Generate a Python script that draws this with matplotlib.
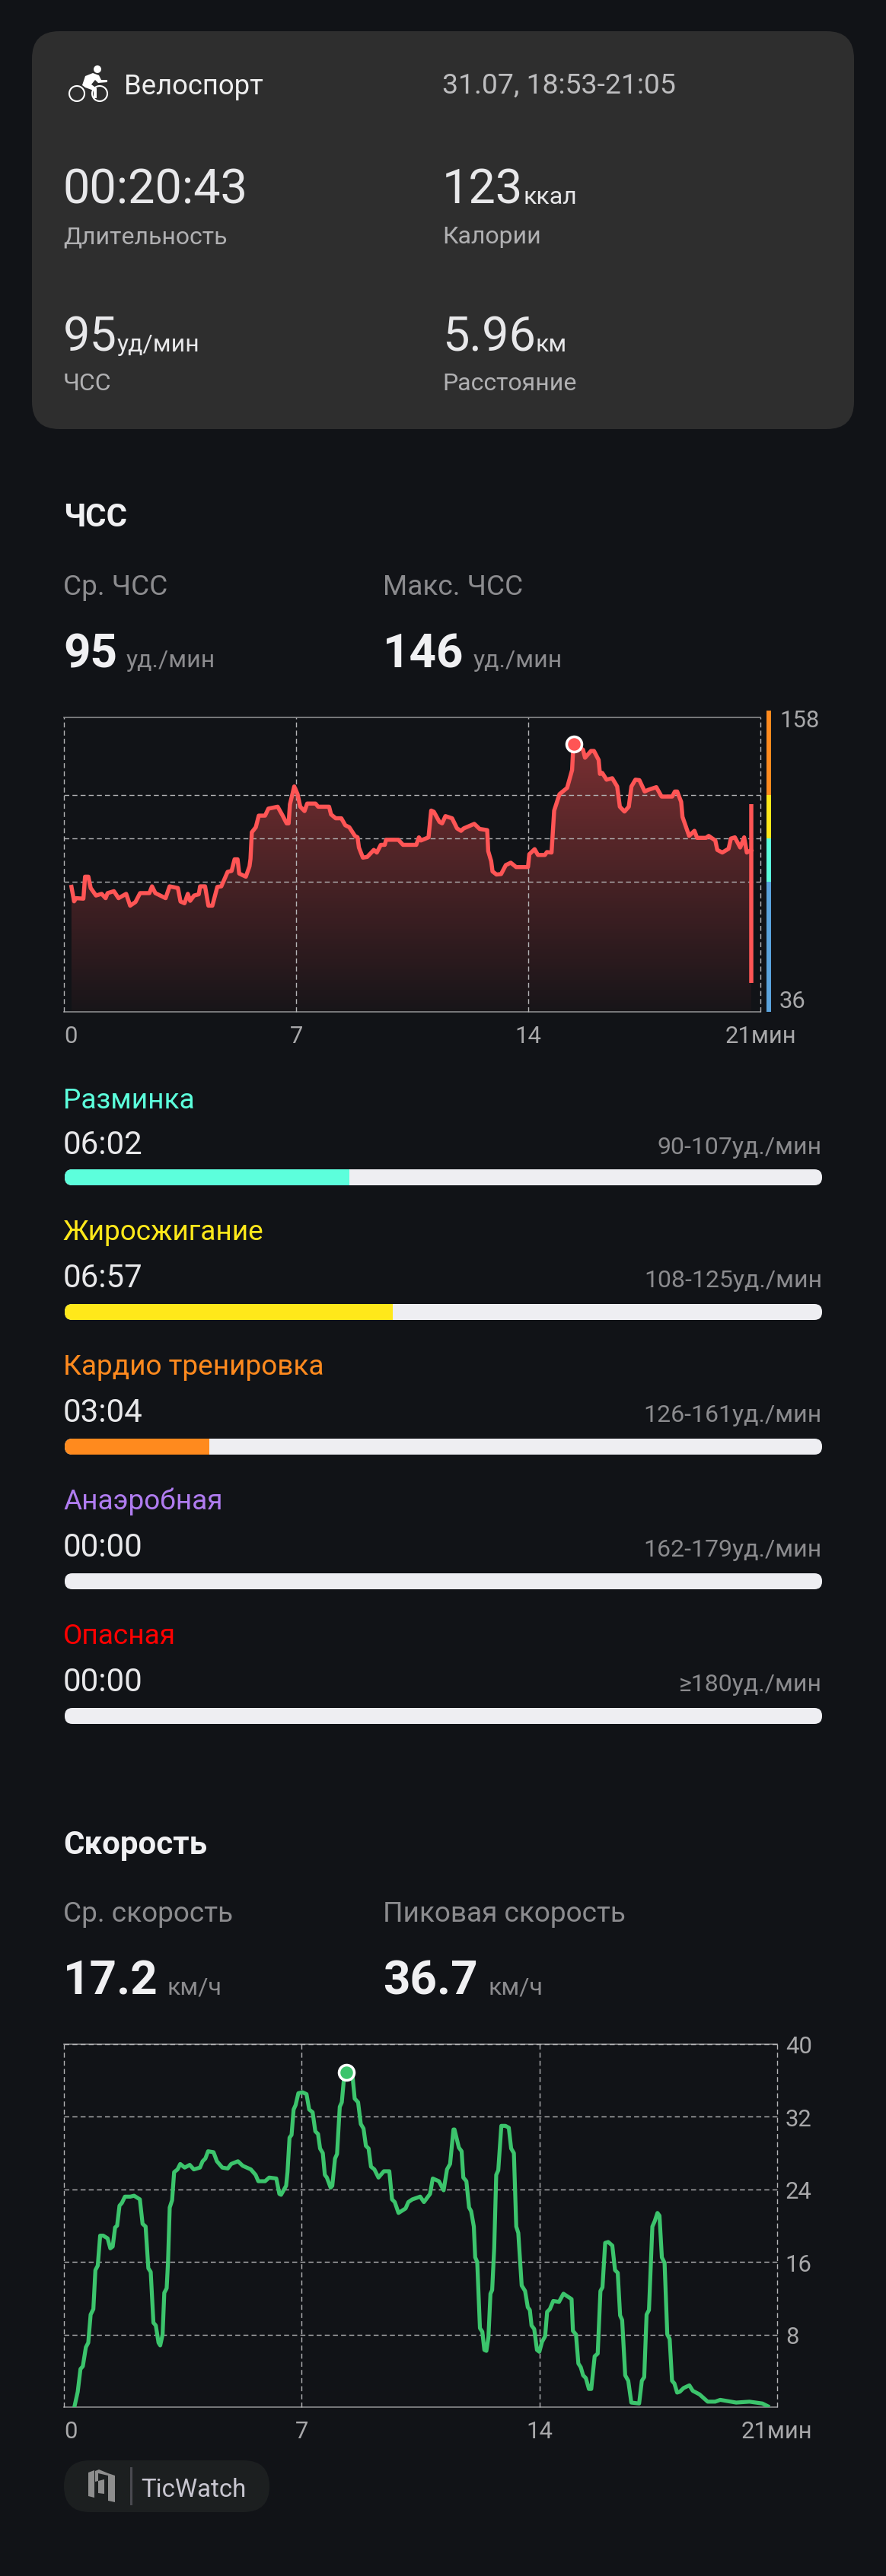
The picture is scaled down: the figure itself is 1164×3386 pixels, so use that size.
import numpy as np
import matplotlib
matplotlib.use('Agg')
import matplotlib.pyplot as plt
from matplotlib.patches import FancyBboxPatch, Polygon, Circle
from matplotlib.transforms import ScaledTranslation

plt.rcParams['font.family'] = ['Roboto', 'DejaVu Sans']
plt.rcParams['lines.scale_dashes'] = False

W, H = 1164, 3387
BG = '#111317'

# heart rate curve, minutes / bpm
hr_min = [.22, .30, .36, .58, .63, .73, .80, .96, 1.13, 1.25, 1.31, 1.50, 1.64, 1.87, 1.99, 2.15, 2.29, 2.57,
          2.65, 2.75, 3.06, 3.18, 3.43, 3.51, 3.63, 3.73, 3.80, 3.92, 4.06, 4.10, 4.25, 4.35, 4.47, 4.62, 4.74,
          4.93, 5.05, 5.14, 5.23, 5.28, 5.48, 5.59, 5.62, 5.66, 5.78, 5.87, 6.06, 6.16, 6.44, 6.59, 6.71, 6.77,
          6.81, 6.94, 7.04, 7.12, 7.25, 7.33, 7.58, 7.66, 7.99, 8.05, 8.19, 8.36, 8.48, 8.60, 8.77, 8.85, 8.89,
          9.01, 9.14, 9.34, 9.43, 9.55, 9.67, 9.71, 10.08, 10.22, 10.62, 10.70, 10.76, 10.99, 11.07, 11.15,
          11.32, 11.40, 11.50, 11.70, 11.85, 11.97, 12.05, 12.37, 12.53, 12.76, 12.79, 12.88, 12.92, 13.04,
          13.18, 13.32, 13.47, 13.63, 13.99, 14.03, 14.19, 14.29, 14.50, 14.56, 14.70, 14.78, 14.94, 15.17,
          15.32, 15.36, 15.65, 15.71, 15.89, 15.98, 16.12, 16.16, 16.23, 16.36, 16.53, 16.68, 16.76, 16.90,
          17.03, 17.11, 17.23, 17.35, 17.51, 17.62, 17.86, 18.02, 18.34, 18.42, 18.49, 18.61, 18.65, 18.85,
          19.01, 19.09, 19.36, 19.44, 19.64, 19.70, 19.85, 20.04, 20.11, 20.23, 20.39, 20.51, 20.59, 20.72]
hr_bpm = [87.8, 81.8, 83.1, 82.9, 92, 92, 87.3, 84.2, 84.9, 83.1, 85.2, 86, 83.1, 84.9, 80, 81.5, 85.2, 85.2,
          88, 85.2, 83.1, 88, 87.3, 81.7, 81, 84.9, 82, 84.2, 84.7, 88, 88, 80, 80, 87.8, 88,
          94, 94.4, 99.2, 99.2, 93.3, 92, 96.3, 99.4, 110.4, 112.5, 117.3, 117.3, 120.2, 121, 117.3, 114.1, 114.1,
          122, 129.4, 126.2, 121, 119.2, 122.3, 122.3, 121, 121, 117.8, 116.2, 116.2, 113.3, 112.5, 108.9, 108.3, 104.1,
          99.9, 100.2, 103.1, 102, 105.2, 105.2, 107.3, 107.3, 105.2, 105.2, 108.3, 107, 108.3, 119.4, 118.9,
          114.7, 114.1, 117.1, 116.2, 112, 111, 112, 113.9, 111.8, 111.3, 102.6, 98.4, 94.2, 92.9,
          93.1, 96.8, 97.8, 96, 96, 101.3, 103.4, 101, 101, 102.2, 102, 119.4, 126.2, 128.8,
          136.2, 147, 144.6, 141.3, 144.1, 144.1, 140.4, 134.6, 135, 132.2, 132.8, 129.4, 121, 119,
          121, 129.4, 132.2, 132, 127.3, 128, 129.1, 125.2, 125.2, 127.3, 127.3, 123, 116.8, 108.9,
          111, 108.1, 108.1, 108.9, 107, 103.1, 102, 103.6, 107.8, 108.3, 104.1, 108.3, 102, 103]
hr_peak = (15.37, 147)
hr_end_bar = (20.72, 48, 122)

# speed curve, minutes / km per hour
sp_min = [.30, .40, .48, .55, .64, .71, .78, .86, .92, .99, 1.06, 1.15, 1.28, 1.36, 1.43, 1.50, 1.56, 1.63, 1.70,
          1.79, 1.95, 2.06, 2.23, 2.31, 2.40, 2.48, 2.55, 2.63, 2.70, 2.78, 2.83, 2.90, 2.95, 3.02, 3.06, 3.11,
          3.18, 3.24, 3.34, 3.42, 3.55, 3.70, 3.82, 4.00, 4.08, 4.16, 4.24, 4.40, 4.50, 4.66, 4.82, 4.92, 5.12,
          5.26, 5.50, 5.64, 5.72, 5.92, 6.04, 6.25, 6.34, 6.39, 6.54, 6.58, 6.64, 6.70, 6.76, 6.82, 6.90, 7.02,
          7.14, 7.22, 7.32, 7.40, 7.48, 7.54, 7.62, 7.68, 7.74, 7.85, 7.90, 7.98, 8.04, 8.12, 8.18, 8.26, 8.31,
          8.50, 8.56, 8.66, 8.74, 8.82, 8.89, 8.97, 9.04, 9.14, 9.26, 9.42, 9.58, 9.66, 9.74, 9.85, 10.06, 10.14,
          10.26, 10.49, 10.60, 10.78, 10.86, 11.04, 11.18, 11.28, 11.37, 11.47, 11.50, 11.63, 11.71, 11.76,
          11.85, 11.93, 11.99, 12.07, 12.11, 12.17, 12.25, 12.32, 12.38, 12.44, 12.50, 12.56, 12.61, 12.67,
          12.73, 12.79, 12.88, 13.00, 13.10, 13.17, 13.25, 13.32, 13.38, 13.48, 13.58, 13.66, 13.72, 13.77,
          13.85, 13.93, 14.00, 14.08, 14.17, 14.23, 14.31, 14.41, 14.58, 14.71, 14.95, 14.99, 15.08, 15.15,
          15.22, 15.29, 15.37, 15.46, 15.53, 15.63, 15.72, 15.80, 15.86, 15.94, 16.03, 16.15, 16.23, 16.31,
          16.38, 16.44, 16.53, 16.62, 16.71, 16.94, 17.02, 17.09, 17.16, 17.23, 17.33, 17.40, 17.48, 17.54,
          17.61, 17.69, 17.77, 17.84, 17.91, 17.98, 18.06, 18.14, 18.25, 18.42, 18.52, 18.72, 18.96, 19.18,
          19.33, 19.80, 20.19, 20.57, 20.73]
sp_kmh = [0, 1.7, 4.2, 4.5, 6.6, 7.1, 10.2, 10.8, 15.1, 15.6, 18.9, 18.9, 18.6, 17.5, 17.7, 19.8, 20, 22.2, 22.5,
          23.2, 23.2, 23.3, 22.9, 20.2, 19.9, 15.3, 14.9, 9.3, 9, 7.1, 6.8, 8, 12.6, 13.1, 16, 22,
          22.8, 25.9, 26.2, 26.8, 26.4, 26.7, 26.2, 26.4, 27.1, 27.4, 28.2, 28.1, 27.1, 26.4, 26.3, 26.8, 27.1,
          26.6, 26.2, 25.6, 24.9, 24.9, 25.3, 25.2, 23.5, 23.4, 24.4, 25.9, 29.7, 30, 32.8, 33.3, 34.6, 34.7,
          34.5, 32.8, 32.5, 30.4, 30.1, 28.5, 28, 25.6, 25.3, 24.2, 24.4, 27.4, 27.9, 33.1, 33.6, 36.9, 36.9,
          36.3, 34, 33.6, 31.2, 30.7, 28.8, 28.5, 26.5, 26.2, 25.3, 26, 26, 22.9, 22.6, 21.4, 21.9, 22.6,
          22.9, 23.2, 22.6, 23.5, 25.2, 24.9, 23.9, 26.2, 26.8, 30.6, 30.6, 28.6, 28.2, 25.3,
          24.9, 22, 21.6, 19.9, 16.5, 16, 8.7, 8.3, 6.3, 6.2, 7.7, 12.5, 12.9, 17.5,
          25.6, 26.1, 31, 31, 30.8, 28.5, 28, 19.9, 19.2, 13.4, 12.8, 11, 10.7, 9,
          8.6, 6.3, 6.1, 7.2, 7.8, 10.5, 10.8, 11.7, 11.6, 12.5, 11.9, 8.4, 8, 4.8,
          4.4, 3.5, 3.2, 2, 2, 5.6, 5.9, 12.8, 13.2, 18.1, 18.2, 17.8, 15.1, 14.8,
          10.1, 9.6, 3.5, 2.9, .5, .4, 2.9, 3.3, 10.2, 10.7, 19.9, 20.5, 21.4, 21.1,
          16.5, 15.9, 8, 7.5, 2.9, 2.6, 1.6, 1.7, 2.1, 2.4, 1.8, 1.4, .6, .6,
          .8, .5, .6, .4, .1]
sp_peak = (8.31, 36.9)

x_ticks = [0, 7, 14, 21]
x_labels = ['0', '7', '14', '21мин']
hr_grid = [90, 108, 126]
zone_edges = [36, 90, 108, 126, 161]
zone_bar_colors = ['#5BA3DC', '#5CFFDC', '#FFE81A', '#FF8A1E']
sp_ticks = [8, 16, 24, 32, 40]

zone_names = ['Разминка', 'Жиросжигание', 'Кардио тренировка', 'Анаэробная', 'Опасная']
zone_times = ['06:02', '06:57', '03:04', '00:00', '00:00']
zone_secs = [362, 417, 184, 0, 0]
zone_ranges = ['90-107уд./мин', '108-125уд./мин', '126-161уд./мин', '162-179уд./мин', '≥180уд./мин']
zone_colors = ['#5CFFDC', '#FFE81A', '#FF8A1E', '#B07CF0', '#FF0000']


def pt(px):
    return px * 0.72


fig = plt.figure(figsize=(W / 100, H / 100), dpi=100, facecolor=BG)
bg = fig.add_axes([0, 0, 1, 1])
bg.set_xlim(0, W)
bg.set_ylim(H, 0)
bg.axis('off')


def txt(x, y, s, px, color='#e8e8ea', weight='normal', ha='left', va='baseline'):
    bg.text(x, y, s, fontsize=pt(px), color=color, fontweight=weight, ha=ha, va=va)


# summary card
bg.add_patch(FancyBboxPatch((42, 42), 1080, 523, boxstyle='round,pad=0,rounding_size=36', fc='#2e2e2e', ec='none'))

# bike icon
for cx in (101, 131):
    bg.add_patch(Circle((cx, 124), 10, fc='none', ec='white', lw=1.5))
bg.add_patch(Circle((128, 92), 5, fc='white', ec='none'))
bg.add_patch(Polygon([(108, 113), (112, 101), (122, 97), (130, 100), (133, 106), (141, 106), (141, 109), (129, 110),
                      (125, 106), (120, 112), (127, 117), (127, 130), (123, 130), (123, 120), (112, 116)],
                     fc='white', ec='none'))

txt(163, 124, 'Велоспорт', 36.5, '#eeeeee')
txt(581, 123, '31.07, 18:53-21:05', 37.4, '#bdbdbf')
txt(83, 268, '00:20:43', 63)
txt(83, 320, 'Длительность', 32, '#b0b0b2')
txt(581, 268, '123', 63)
txt(687, 268, 'ккал', 32)
txt(581, 320, 'Калории', 32, '#b0b0b2')
txt(83, 462, '95', 63)
txt(154, 462, 'уд/мин', 32)
txt(83, 513, 'ЧСС', 32, '#b0b0b2')
txt(581, 462, '5.96', 63)
txt(704, 462, 'км', 32)
txt(581, 513, 'Расстояние', 32, '#b0b0b2')

# heart rate header
txt(83, 692, 'ЧСС', 42, '#f0f0f2', 'bold')
txt(83, 782, 'Ср. ЧСС', 37, '#8b8b8e')
txt(503, 782, 'Макс. ЧСС', 37, '#8b8b8e')
txt(83, 877, '95', 62, '#f0f0f2', 'bold')
txt(166, 877, 'уд./мин', 32, '#8b8b8e')
txt(503, 877, '146', 62, '#f0f0f2', 'bold')
txt(622, 877, 'уд./мин', 32, '#8b8b8e')

# zones
for i in range(len(zone_names)):
    off = 177 * i
    # the labels above the first row sit a little higher than the pitch of the bars
    txt(83, 1457 + off - (4 if i else 0), zone_names[i], 37, zone_colors[i])
    txt(83, 1517 + off - (2 if i else 0), zone_times[i], 42)
    txt(1080, 1517 + off - (2 if i else 0), zone_ranges[i], 32, '#8b8b8e', ha='right')
    track = FancyBboxPatch((85, 1538 + off), 995, 21, boxstyle='round,pad=0,rounding_size=10', fc='#eeeef2', ec='none')
    bg.add_patch(track)
    frac = zone_secs[i] / sum(zone_secs)
    bars = bg.barh(1548.5 + off, frac * 995, left=85, height=21, color=zone_colors[i])
    bars[0].set_clip_path(track)

# speed header
txt(83, 2437, 'Скорость', 42, '#f0f0f2', 'bold')
txt(83, 2526, 'Ср. скорость', 37, '#8b8b8e')
txt(503, 2526, 'Пиковая скорость', 37, '#8b8b8e')
txt(83, 2622, '17.2', 62, '#f0f0f2', 'bold')
txt(220, 2622, 'км/ч', 32, '#8b8b8e')
txt(503, 2622, '36.7', 62, '#f0f0f2', 'bold')
txt(641, 2622, 'км/ч', 32, '#8b8b8e')

# TicWatch badge
bg.add_patch(FancyBboxPatch((84, 3235), 270, 68, boxstyle='round,pad=0,rounding_size=34', fc='#1c1f20', ec='none'))
for poly in ([(116, 3251), (124, 3248), (124, 3284), (116, 3282)],
             ([(125, 3249), (130, 3247), (142, 3252), (142, 3255), (129, 3252), (129, 3262), (125, 3263)]),
             ([(129, 3262), (137, 3260), (137, 3279), (129, 3278)]),
             ([(142, 3252), (151, 3255), (151, 3290), (142, 3288)])):
    bg.add_patch(Polygon(poly, fc='#8e8e8e', ec='none'))
bg.plot([171.5, 171.5], [3245, 3292], color='#4a4a50', lw=pt(3))
txt(185, 3282, 'TicWatch', 33, '#c8c6d0')


def chart_axes(left, top, right, bottom):
    ax = fig.add_axes([left / W, 1 - bottom / H, (right - left) / W, (bottom - top) / H])
    ax.patch.set_alpha(0)
    ax.set_xticks(x_ticks)
    ax.set_xticklabels(x_labels, fontsize=pt(31), color='#a8a8aa')
    zero = ax.get_xticklabels()[0]
    zero.set_ha('left')
    zero.set_transform(zero.get_transform() + ScaledTranslation(3 / 100, 0, fig.dpi_scale_trans))
    ax.tick_params(length=0, pad=12)
    for side in ('left', 'right'):
        ax.spines[side].set_visible(False)
    for side in ('top', 'bottom'):
        ax.spines[side].set_color('#8a8a8c')
        ax.spines[side].set_linewidth(1.2)
    ax.set_axisbelow(False)
    return ax


def style_grid(ax):
    ax.grid(True, color='#b4b4b6', lw=1.0, ls=(0, (4.7, 3)))
    for g in ax.xaxis.get_gridlines() + ax.yaxis.get_gridlines():
        g.set_clip_on(False)
        g.set_zorder(2.5)


# heart rate chart
ax = chart_axes(84.3, 944, 999, 1331)
ax.set_yticks(hr_grid)
ax.set_yticklabels([])
style_grid(ax)
rows = np.linspace(0.48, 0.03, 256).reshape(-1, 1)
grad = np.zeros((256, 1, 4))
grad[..., 0] = 1.0
grad[..., 1] = 0.33
grad[..., 2] = 0.33
grad[..., 3] = rows
poly = Polygon(list(zip(hr_min, hr_bpm)) + [(hr_min[-1], 36), (hr_min[0], 36)], transform=ax.transData, fc='none', ec='none')
ax.add_patch(poly)
im = ax.imshow(grad, extent=[0, 21, 36, 158], aspect='auto', zorder=1)
im.set_clip_path(poly)
ax.plot(hr_min, hr_bpm, color='#FF5555', lw=pt(5.4), zorder=3, solid_joinstyle='round')
ax.plot([hr_end_bar[0]] * 2, hr_end_bar[1:], color='#FF5555', lw=pt(5.5), zorder=3, solid_capstyle='butt')
ax.plot(*hr_peak, 'o', ms=pt(20), mfc='#FF5555', mec='white', mew=pt(3.5), zorder=4, clip_on=False)
ax.set_xlim(0, 21)
ax.set_ylim(36, 158)

# zone colour strip on the right of the chart
strip = fig.add_axes([1007 / W, 1 - 1331 / H, 6 / W, 399 / H])
strip.patch.set_alpha(0)
strip.bar(0, np.diff(zone_edges), bottom=zone_edges[:-1], width=1, color=zone_bar_colors, linewidth=0)
strip.set_xlim(-0.5, 0.5)
strip.set_ylim(36, 161.9)
strip.set_xticks([])
strip.yaxis.tick_right()
strip.set_yticks([36, 158])
strip.set_yticklabels(['36', '158'], fontsize=pt(31), color='#a8a8aa')
strip.get_yticklabels()[0].set_va('bottom')
strip.tick_params(length=0, pad=8)
for s in strip.spines.values():
    s.set_visible(False)

# speed chart
ax2 = chart_axes(84.3, 2688, 1020.7, 3165)
ax2.yaxis.tick_right()
ax2.set_yticks(sp_ticks)
ax2.set_yticklabels([str(v) for v in sp_ticks], fontsize=pt(31), color='#a8a8aa')
ax2.tick_params(axis='y', length=0, pad=8)
style_grid(ax2)
ax2.plot(sp_min, sp_kmh, color='#3CC46C', lw=pt(5.2), zorder=3, solid_joinstyle='round')
ax2.plot(*sp_peak, 'o', ms=pt(20), mfc='#3CC46C', mec='white', mew=pt(3.5), zorder=4, clip_on=False)
ax2.set_xlim(0, 21)
ax2.set_ylim(0, 40)

fig.savefig('out.png', dpi=100, facecolor=BG)
